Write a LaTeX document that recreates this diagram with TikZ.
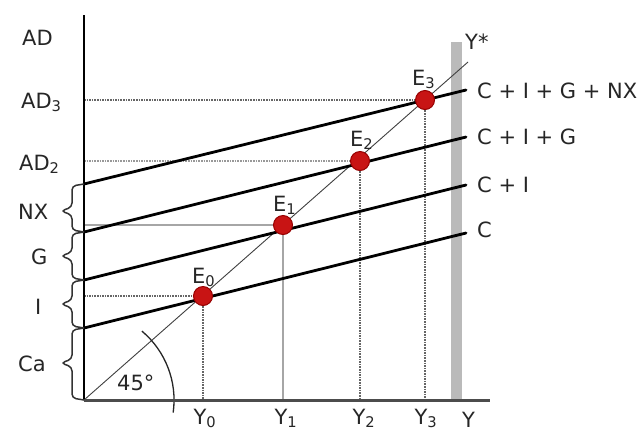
\documentclass[tikz,border=0pt]{standalone}
\usepackage{fontspec}
\setmainfont{DejaVu Sans}
\begin{document}
\begin{tikzpicture}[x=1pt,y=1pt,yscale=-1,
  lbl/.style={font=\fontsize{21}{25}\selectfont, inner sep=0pt, anchor=base west, text=black!85},
  lblc/.style={lbl, anchor=base},
  aggline/.style={line width=2.8pt, black, line cap=round},
  diag/.style={line width=0.9pt, black!75},
  dotguide/.style={line width=1.6pt, black!60, densely dotted},
  solidguide/.style={line width=1.6pt, black!35},
  bracestyle/.style={line width=1.5pt, black!80, rounded corners=4pt},
  eqdot/.style={circle, minimum size=19pt, inner sep=0pt, fill={rgb,255:red,200;green,20;blue,20}, draw={rgb,255:red,150;green,0;blue,0}, line width=1pt}
]
\useasboundingbox (0,0) rectangle (644,432);
\fill[white] (0,0) rectangle (644,432);

% coordinates
\coordinate (O) at (84,400);
\coordinate (ytop) at (84,15);
\coordinate (xend) at (490,400);
\coordinate (d45) at (468,62);
\coordinate (c0) at (84,328);   \coordinate (c1) at (466,233);
\coordinate (ci0) at (84,280);  \coordinate (ci1) at (466,185);
\coordinate (cig0) at (84,232); \coordinate (cig1) at (466,137);
\coordinate (nx0) at (84,184);  \coordinate (nx1) at (466,90);
\coordinate (bar0) at (451,42); \coordinate (bar1) at (462,400);

% equilibrium points
\coordinate (P0) at (203,296);
\coordinate (P1) at (283,225);
\coordinate (P2) at (360,161);
\coordinate (P3) at (425,100);

% full-employment bar
\fill[black!27] (bar0) rectangle (bar1);

% guide lines
\draw[dotguide] (O |- P0) -- (P0);
\draw[dotguide] (P0) -- (P0 |- O);
\draw[solidguide] (O |- P1) -- (P1);
\draw[solidguide] (P1) -- (P1 |- O);
\draw[dotguide, black!40] (O |- P2) -- (P2);
\draw[dotguide] (P2) -- (P2 |- O);
\draw[dotguide] (O |- P3) -- (P3);
\draw[dotguide] (P3) -- (P3 |- O);

% 45 degree line and arc
\draw[diag] (O) -- (d45);
\draw[line width=1.3pt, black!85] (141.9,331.1) arc[start angle=-50, end angle=8, radius=90];

% aggregate demand lines
\draw[aggline] (c0) -- (c1);
\draw[aggline] (ci0) -- (ci1);
\draw[aggline] (cig0) -- (cig1);
\draw[aggline] (nx0) -- (nx1);

% axes
\draw[line width=2pt, black] (ytop) -- (O);
\draw[line width=3pt, black!70] (O) -- (xend);

% braces
\draw[bracestyle] (nx0) -- (72,186) -- (72,207) -- (61,211) -- (72,215) -- (72,230) -- (cig0);
\draw[bracestyle] (cig0) -- (72,234) -- (72,252) -- (61,256) -- (72,260) -- (72,278) -- (ci0);
\draw[bracestyle] (ci0) -- (72,282) -- (72,300) -- (61,304) -- (72,308) -- (72,326) -- (c0);
\draw[bracestyle] (c0) -- (72,330) -- (72,359) -- (61,363) -- (72,367) -- (72,398) -- (O);

% dots
\node[eqdot] (E0) at (P0) {};
\node[eqdot] (E1) at (P1) {};
\node[eqdot] (E2) at (P2) {};
\node[eqdot] (E3) at (P3) {};

% labels
\node[lbl] (lAD) at (22,45) {AD};
\node[lbl] (lAD3) at (21,108) {AD\textsubscript{3}};
\node[lbl] (lAD2) at (19,170) {AD\textsubscript{2}};
\node[lbl] (lNX) at (18,219) {NX};
\node[lbl] (lG) at (31,264) {G};
\node[lbl] (lI) at (35,314) {I};
\node[lbl] (lCa) at (18,371) {Ca};
\node[lbl] (l45) at (117,390) {45°};

\node[lbl] (lE0) at (192,283) {E\textsubscript{0}};
\node[lbl] (lE1) at (273,211) {E\textsubscript{1}};
\node[lbl] (lE2) at (350,146) {E\textsubscript{2}};
\node[lbl] (lE3) at (412,85) {E\textsubscript{3}};

\node[lbl] (lYs) at (465,49) {Y*};
\node[lbl] (lCIGNX) at (477,98) {C + I + G + NX};
\node[lbl] (lCIG) at (477,144) {C + I + G};
\node[lbl] (lCI) at (477,192) {C + I};
\node[lbl] (lC) at (477,237) {C};

\node[lblc] (lY0) at (205,424) {Y\textsubscript{0}};
\node[lblc] (lY1) at (286,424) {Y\textsubscript{1}};
\node[lblc] (lY2) at (364,424) {Y\textsubscript{2}};
\node[lblc] (lY3) at (426,424) {Y\textsubscript{3}};
\node[lbl] (lY) at (462,427) {Y};
\end{tikzpicture}
\end{document}
